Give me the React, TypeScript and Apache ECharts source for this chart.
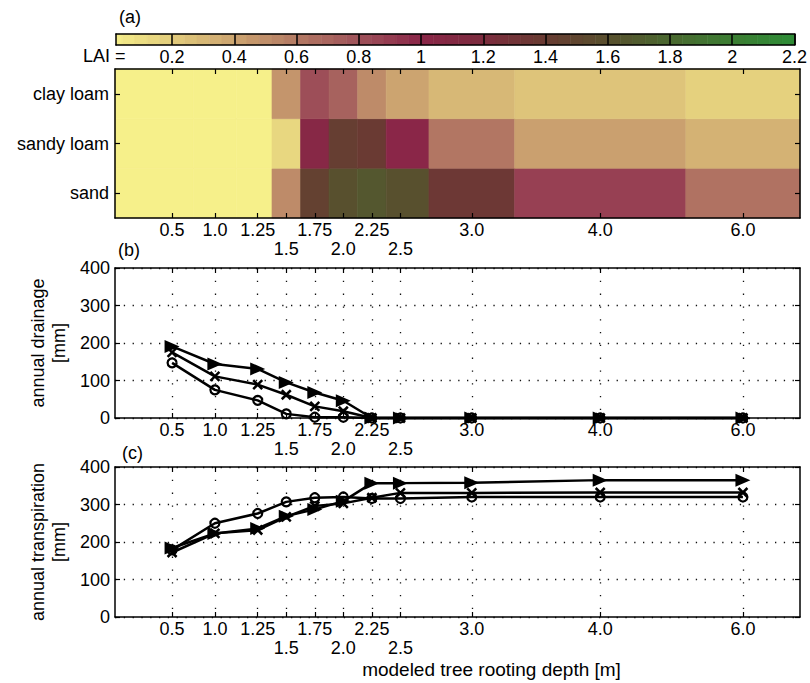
import React, { useEffect, useRef } from 'react';
import * as echarts from 'echarts';

// ---- data ----
const depthLabels = ['0.5', '1.0', '1.25', '1.5', '1.75', '2.0', '2.25', '2.5', '3.0', '4.0', '6.0'];
// position of each rooting depth on the (non-linear) plotting axis, 0..12
const depthAxisPos = [1, 1.75, 2.5, 3, 3.5, 4, 4.5, 5, 6.25, 8.5, 11];
const lowerRowLabels = ['1.5', '2.0', '2.5'];
// heat-map cell edges on the plotting axis
const cellEdges = [0, 1.375, 2.125, 2.75, 3.25, 3.75, 4.25, 4.75, 5.5, 7, 10, 12];

const soils = ['sand', 'sandy loam', 'clay loam']; // bottom to top
const laiClayLoam = [0, 0, 0, 0.47, 0.82, 0.72, 0.52, 0.4, 0.3, 0.24, 0.17];
const laiSandyLoam = [0, 0, 0, 0.14, 1.05, 1.42, 1.38, 1.0, 0.62, 0.42, 0.33];
const laiSand = [0, 0, 0, 0.52, 1.45, 1.6, 1.66, 1.6, 1.35, 0.88, 0.64];

const laiTicks = [0.2, 0.4, 0.6, 0.8, 1, 1.2, 1.4, 1.6, 1.8, 2, 2.2];
const laiStops = [0, 0.2, 0.4, 0.6, 0.8, 1.0, 1.2, 1.4, 1.6, 1.8, 2.0, 2.2];
const laiColors = ['#f6f08a', '#e2cc7c', '#cca470', '#b47a64', '#9f525a', '#8a2648', '#7c2c3e', '#683c32', '#58502e', '#4a6830', '#3c7e33', '#2e8c36'];

const drainageTri = [191, 144, 131, 95, 68, 46, 0, 0, 0, 0, 0];
const drainageX = [175, 111, 89, 62, 31, 18, 0, 0, 0, 0, 0];
const drainageCirc = [147, 75, 47, 11, 2, 2, 0, 0, 0, 0, 0];

const transTri = [184, 223, 236, 269, 287, 309, 357, 357, 358, 365, 365];
const transX = [172, 223, 232, 267, 296, 303, 318, 331, 331, 332, 332];
const transCirc = [179, 250, 276, 307, 318, 320, 316, 316, 320, 320, 320];

// ---- helpers ----
const FONT = "'Liberation Sans', Arial, Helvetica, sans-serif";

function hexToRgb(h: string) {
  const n = parseInt(h.slice(1), 16);
  return [(n >> 16) & 255, (n >> 8) & 255, n & 255];
}
function laiColor(v: number) {
  const x = Math.max(laiStops[0], Math.min(laiStops[laiStops.length - 1], v));
  let i = 0;
  while (i < laiStops.length - 2 && x > laiStops[i + 1]) i++;
  const t = (x - laiStops[i]) / (laiStops[i + 1] - laiStops[i]);
  const a = hexToRgb(laiColors[i]);
  const b = hexToRgb(laiColors[i + 1]);
  const c = a.map((av, k) => Math.round(av + (b[k] - av) * t));
  return `rgb(${c[0]},${c[1]},${c[2]})`;
}

function depthLabel(v: number) {
  const i = depthAxisPos.findIndex((p) => Math.abs(p - v) < 1e-6);
  if (i < 0) return '';
  const l = depthLabels[i];
  return lowerRowLabels.includes(l) ? '\n' + l : l;
}

const AXIS_LINE = { show: true, onZero: false, lineStyle: { color: '#000', width: 1.5 } };
const TICK_STYLE = { color: '#000', width: 1.2 };
const DOT_H = { color: '#111', width: 1.3, type: [1.3, 7.5] as any };
const DOT_V = { color: '#111', width: 1.3, type: [1.3, 11.5] as any };

function depthXAxes(gridIndex: number, withGrid: boolean, z: number, name?: string) {
  const bottom: any = {
    type: 'value', gridIndex, min: 0, max: 12, position: 'bottom', z,
    axisLine: AXIS_LINE,
    axisTick: { show: true, inside: true, length: 5, customValues: depthAxisPos, lineStyle: TICK_STYLE },
    axisLabel: {
      show: true, customValues: depthAxisPos, formatter: (v: number) => depthLabel(v),
      color: '#000', fontSize: 18, fontFamily: FONT, margin: 3, lineHeight: 18.5,
    },
    splitLine: { show: withGrid, lineStyle: DOT_V },
  };
  if (name) {
    bottom.name = name;
    bottom.nameLocation = 'middle';
    bottom.nameGap = 43;
    bottom.nameTextStyle = { color: '#000', fontSize: 19, fontFamily: FONT, padding: [0, 0, 0, 68] };
  }
  const top: any = {
    type: 'value', gridIndex, min: 0, max: 12, position: 'top', z,
    axisLine: AXIS_LINE,
    axisTick: { show: true, inside: true, length: 5, customValues: depthAxisPos, lineStyle: TICK_STYLE },
    axisLabel: { show: false },
    splitLine: { show: false },
  };
  return [bottom, top];
}

function valueYAxes(gridIndex: number, name: string) {
  const left: any = {
    type: 'value', gridIndex, min: 0, max: 400, interval: 100, position: 'left',
    axisLine: AXIS_LINE,
    axisTick: { show: true, inside: true, length: 5, lineStyle: TICK_STYLE },
    axisLabel: { show: true, color: '#000', fontSize: 18, fontFamily: FONT, margin: 5 },
    splitLine: { show: true, lineStyle: DOT_H },
    name, nameLocation: 'middle', nameRotate: 90, nameGap: 46,
    nameTextStyle: { color: '#000', fontSize: 18, fontFamily: FONT, lineHeight: 21 },
  };
  const right: any = {
    type: 'value', gridIndex, min: 0, max: 400, interval: 100, position: 'right',
    axisLine: AXIS_LINE,
    axisTick: { show: true, inside: true, length: 5, lineStyle: TICK_STYLE },
    axisLabel: { show: false },
    splitLine: { show: false },
  };
  return [left, right];
}

function lineSeries(xi: number, yi: number, values: number[], kind: 'tri' | 'x' | 'circ') {
  const base: any = {
    type: 'line', xAxisIndex: xi, yAxisIndex: yi, clip: false, silent: true,
    data: depthAxisPos.map((p, i) => [p, values[i]]),
    lineStyle: { color: '#000', width: 2.5 },
    showSymbol: true, showAllSymbol: true, z: 3,
  };
  if (kind === 'tri') {
    base.symbol = 'triangle';
    base.symbolRotate = -90;
    base.symbolSize = [13, 15];
    base.itemStyle = { color: '#000' };
  } else if (kind === 'x') {
    base.symbol = 'path://M0,0L10,10M10,0L0,10';
    base.symbolSize = 9;
    base.itemStyle = { color: '#000', borderColor: '#000', borderWidth: 2.5 };
  } else {
    base.symbol = 'circle';
    base.symbolSize = 9;
    base.itemStyle = { color: 'rgba(255,255,255,0)', borderColor: '#000', borderWidth: 2.2 };
  }
  return base;
}

export default function App() {
  const ref = useRef<HTMLDivElement>(null);
  useEffect(() => {
    if (!ref.current) return;
    const chart = echarts.init(ref.current, null, { renderer: 'svg' });

    // colorbar bands built from the colormap
    const cbBands: number[][] = [];
    for (let k = 0; k < 55; k++) {
      const a = k * 0.04;
      cbBands.push([Math.max(a, 0.02), a + 0.04, a + 0.02]);
    }

    const heatData: number[][] = [];
    const rows = [laiSand, laiSandyLoam, laiClayLoam];
    rows.forEach((r, ri) => {
      r.forEach((v, ci) => heatData.push([cellEdges[ci], cellEdges[ci + 1], ri, v]));
    });

    const [hxB, hxT] = depthXAxes(1, false, 5);
    const [bxB, bxT] = depthXAxes(2, true, 0);
    const [cxB, cxT] = depthXAxes(3, true, 0, 'modeled tree rooting depth [m]');
    const [byL, byR] = valueYAxes(2, 'annual drainage\n[mm]');
    const [cyL, cyR] = valueYAxes(3, 'annual transpiration\n[mm]');

    const option: any = {
      animation: false,
      backgroundColor: '#fff',
      textStyle: { fontFamily: FONT },
      grid: [
        { left: 116, width: 684, top: 34, height: 11 },
        { left: 115, width: 685, top: 69, height: 149 },
        { left: 115, width: 685, top: 268, height: 150 },
        { left: 115, width: 685, top: 467, height: 150 },
      ],
      xAxis: [
        {
          type: 'value', gridIndex: 0, min: 0.02, max: 2.2, position: 'bottom', z: 5,
          axisLine: AXIS_LINE,
          axisTick: { show: true, inside: true, length: 11, customValues: laiTicks, lineStyle: { color: '#000', width: 1.5 } },
          axisLabel: {
            show: true, customValues: laiTicks, formatter: (v: number) => String(+v.toFixed(1)),
            color: '#000', fontSize: 18, fontFamily: FONT, margin: 3,
          },
          splitLine: { show: false },
        },
        {
          type: 'value', gridIndex: 0, min: 0.02, max: 2.2, position: 'top', z: 5,
          axisLine: AXIS_LINE, axisTick: { show: false }, axisLabel: { show: false }, splitLine: { show: false },
        },
        hxB, hxT, bxB, bxT, cxB, cxT,
      ],
      yAxis: [
        {
          type: 'value', gridIndex: 0, min: 0, max: 1, position: 'left', z: 5,
          axisLine: AXIS_LINE, axisTick: { show: false }, axisLabel: { show: false }, splitLine: { show: false },
        },
        {
          type: 'value', gridIndex: 0, min: 0, max: 1, position: 'right', z: 5,
          axisLine: AXIS_LINE, axisTick: { show: false }, axisLabel: { show: false }, splitLine: { show: false },
        },
        {
          type: 'category', gridIndex: 1, data: soils, position: 'left', z: 5,
          axisLine: AXIS_LINE,
          axisTick: { show: true, inside: true, length: 5, alignWithLabel: true, lineStyle: TICK_STYLE },
          axisLabel: { show: true, color: '#000', fontSize: 18, fontFamily: FONT, margin: 6 },
          splitLine: { show: false },
        },
        {
          type: 'category', gridIndex: 1, data: soils, position: 'right', z: 5,
          axisLine: AXIS_LINE,
          axisTick: { show: true, inside: true, length: 5, alignWithLabel: true, lineStyle: TICK_STYLE },
          axisLabel: { show: false },
          splitLine: { show: false },
        },
        byL, byR, cyL, cyR,
      ],
      graphic: [
        { type: 'text', left: 119, top: 8, style: { text: '(a)', fontSize: 18, fontFamily: FONT, fill: '#000' } },
        { type: 'text', left: 83, top: 47, style: { text: 'LAI =', fontSize: 18, fontFamily: FONT, fill: '#000' } },
        { type: 'text', left: 118, top: 241, style: { text: '(b)', fontSize: 18, fontFamily: FONT, fill: '#000' } },
        { type: 'text', left: 122, top: 444, style: { text: '(c)', fontSize: 18, fontFamily: FONT, fill: '#000' } },
      ],
      series: [
        {
          type: 'custom', xAxisIndex: 0, yAxisIndex: 0, silent: true, z: 1,
          data: cbBands,
          encode: { x: [0, 1], y: 2 },
          renderItem: (params: any, api: any) => {
            const p0 = api.coord([api.value(0), 1]);
            const p1 = api.coord([api.value(1), 0]);
            const fill = laiColor(api.value(2));
            return {
              type: 'rect',
              shape: { x: p0[0], y: p0[1], width: p1[0] - p0[0] + 0.3, height: p1[1] - p0[1] },
              style: { fill, stroke: fill, lineWidth: 0.3 },
            };
          },
        },
        {
          type: 'custom', xAxisIndex: 2, yAxisIndex: 2, silent: true, z: 1,
          data: heatData,
          encode: { x: [0, 1], y: 2 },
          renderItem: (params: any, api: any) => {
            const row = api.value(2);
            const p0 = api.coord([api.value(0), row]);
            const p1 = api.coord([api.value(1), row]);
            const h = api.size([0, 1])[1];
            const fill = laiColor(api.value(3));
            return {
              type: 'rect',
              shape: { x: p0[0], y: p0[1] - h / 2, width: p1[0] - p0[0], height: h },
              style: { fill, stroke: fill, lineWidth: 0.6 },
            };
          },
        },
        lineSeries(4, 4, drainageCirc, 'circ'),
        lineSeries(4, 4, drainageX, 'x'),
        lineSeries(4, 4, drainageTri, 'tri'),
        lineSeries(6, 6, transCirc, 'circ'),
        lineSeries(6, 6, transX, 'x'),
        lineSeries(6, 6, transTri, 'tri'),
      ],
    };
    chart.setOption(option);
    return () => chart.dispose();
  }, []);
  return (
    <div
      ref={ref}
      style={{ position: 'fixed', left: 0, top: 0, width: 810, height: 683, background: '#fff' }}
    />
  );
}
